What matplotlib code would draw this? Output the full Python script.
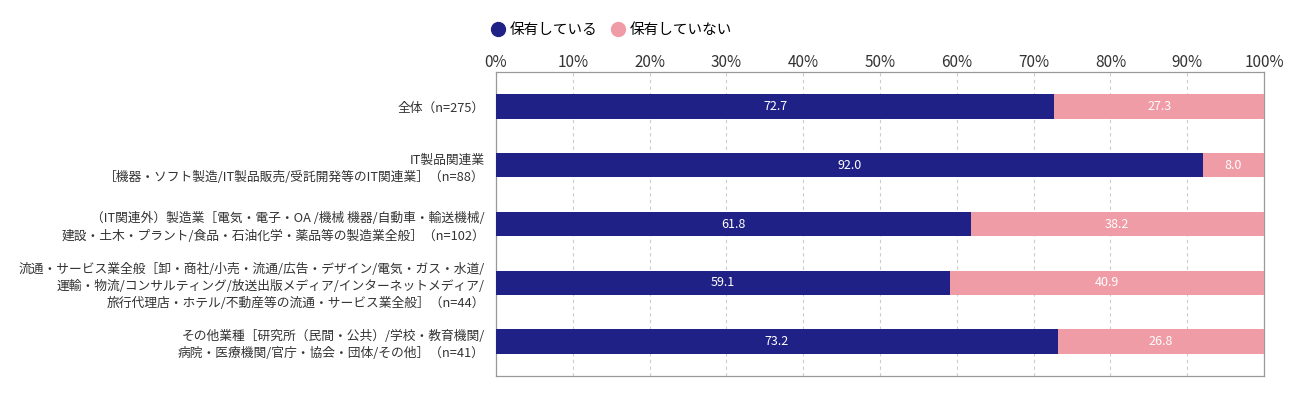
import matplotlib
matplotlib.use("Agg")
import matplotlib.pyplot as plt
from matplotlib.lines import Line2D
import numpy as np

plt.rcParams['font.family'] = ['Noto Sans CJK JP', 'DejaVu Sans']

categories = [
    "全体（n=275）",
    "IT製品関連業\n［機器・ソフト製造/IT製品販売/受託開発等のIT関連業］（n=88）",
    "（IT関連外）製造業［電気・電子・OA /機械 機器/自動車・輸送機械/\n建設・土木・プラント/食品・石油化学・薬品等の製造業全般］（n=102）",
    "流通・サービス業全般［卸・商社/小売・流通/広告・デザイン/電気・ガス・水道/\n運輸・物流/コンサルティング/放送出版メディア/インターネットメディア/\n旅行代理店・ホテル/不動産等の流通・サービス業全般］（n=44）",
    "その他業種［研究所（民間・公共）/学校・教育機関/\n病院・医療機関/官庁・協会・団体/その他］（n=41）",
]
owned = [72.7, 92.0, 61.8, 59.1, 73.2]
not_owned = [27.3, 8.0, 38.2, 40.9, 26.8]
series_names = ["保有している", "保有していない"]
colors = ["#1f2186", "#f09ca6"]

fig = plt.figure(figsize=(13, 4), dpi=100)
ax = fig.add_axes([0.3815, 0.06, 0.5908, 0.76])

y = np.arange(len(categories))
h = 0.41
ax.barh(y, owned, height=h, color=colors[0], zorder=3)
ax.barh(y, not_owned, left=owned, height=h, color=colors[1], zorder=3)

for i in range(len(categories)):
    ax.text(owned[i] / 2, y[i], f"{owned[i]:.1f}", ha="center", va="center",
            color="white", fontsize=9, zorder=4)
    ax.text(owned[i] + not_owned[i] / 2, y[i], f"{not_owned[i]:.1f}", ha="center",
            va="center", color="white", fontsize=9, zorder=4)

ax.set_xlim(0, 100)
ax.set_ylim(4.587, -0.587)
ax.set_xticks(np.arange(0, 101, 10))
ax.set_xticklabels([f"{v}%" for v in range(0, 101, 10)], fontsize=11, color="#333333")
ax.xaxis.tick_top()
ax.tick_params(axis="x", length=0, pad=1)
ax.set_yticks(y)
ax.set_yticklabels(categories, fontsize=9.2, color="#333333", linespacing=1.4)
ax.tick_params(axis="y", length=0, pad=8)
for lbl in ax.get_yticklabels():
    lbl.set_multialignment("right")

ax.grid(axis="x", linestyle=(0, (3, 3)), color="#cccccc", linewidth=0.8, zorder=0)
for s in ax.spines.values():
    s.set_color("#999999")
    s.set_linewidth(0.9)

handles = [Line2D([0], [0], marker="o", linestyle="", markersize=10,
                  markerfacecolor=c, markeredgecolor=c) for c in colors]
fig.legend(handles, series_names, loc="center left", bbox_to_anchor=(0.364, 0.925),
           ncol=2, frameon=False, fontsize=10.5, handletextpad=0.0,
           columnspacing=0.6, handlelength=1.6)

fig.savefig("out.png", dpi=100)
